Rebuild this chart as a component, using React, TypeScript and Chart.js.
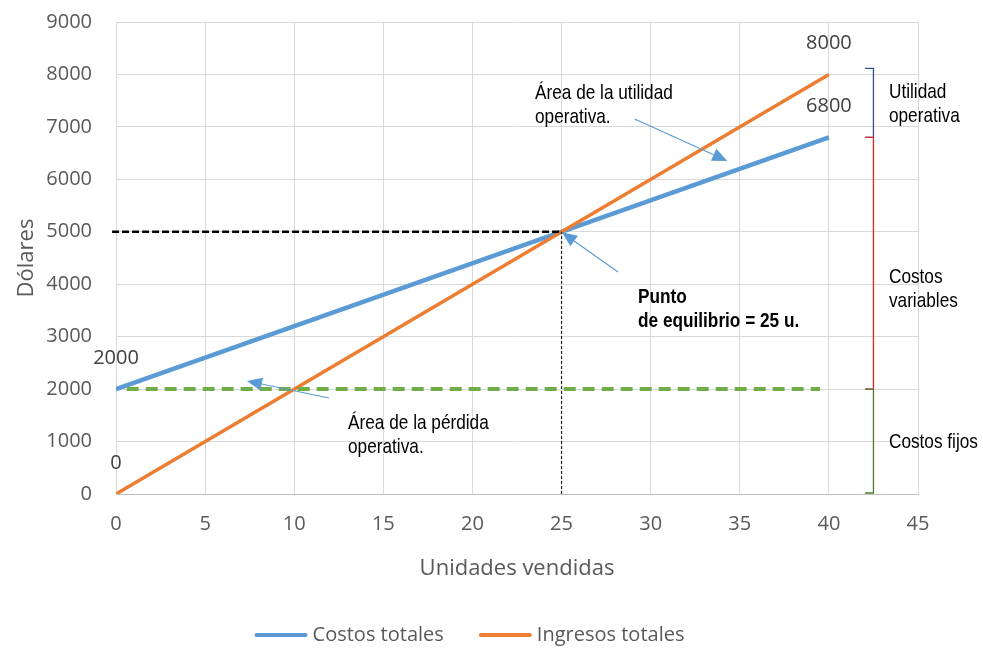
import React, { useEffect, useRef } from "react";
import { Chart, registerables } from "chart.js";

Chart.register(...registerables);

// Series: units sold vs dollars
const unidades = [0, 40];
const costosTotales = [2000, 6800];
const ingresosTotales = [0, 8000];

// Fixed-cost reference line
const costosFijosX = [0.6, 39.5];
const costosFijosY = [2000, 2000];

// Break-even point and its guide lines
const equilibrioUnidades = 25;
const equilibrioDolares = 5000;
const guiaHorizontalX = [-0.22, equilibrioUnidades];

// Axis ranges
const ejeX = { min: 0, max: 45, paso: 5 };
const ejeY = { min: 0, max: 9000, paso: 1000 };

// Legend entries, in display order
const leyenda = ["Costos totales", "Ingresos totales"];

// Annotation arrows (data units): from -> to
const flechas = [
  { desde: [29.1, 7150], hasta: [34.3, 6350] },
  { desde: [11.95, 1830], hasta: [7.35, 2155] },
  { desde: [28.17, 4233], hasta: [25.02, 4990] },
];

// Annotation notes (data units, first baseline)
const notas = [
  { x: 23.51, y: 7532, lineas: ["Área de la utilidad", "operativa."], negrita: false },
  { x: 13.02, y: 1240, lineas: ["Área de la pérdida", "operativa."], negrita: false },
  { x: 29.29, y: 3642, lineas: ["Punto", "de equilibrio = 25 u."], negrita: true },
  { x: 43.37, y: 7552, lineas: ["Utilidad", "operativa"], negrita: false },
  { x: 43.37, y: 4024, lineas: ["Costos", "variables"], negrita: false },
  { x: 43.37, y: 877, lineas: ["Costos fijos"], negrita: false },
];

// Right-hand braces (data units)
const llaves = [
  { x: 42.5, desde: 8000, hasta: 6800, color: "#2F528F", extraArriba: 6 },
  { x: 42.5, desde: 6800, hasta: 2000, color: "#E3262B", extraArriba: 0 },
  { x: 42.5, desde: 2000, hasta: 0, color: "#4F7A34", extraArriba: 0 },
];

const AZUL = "#5B9BD5";
const NARANJA = "#ED7D31";
const VERDE = "#70AD47";
const GRIS_TEXTO = "#595959";

function toXY(xs: number[], ys: number[]) {
  return xs.map((x, i) => ({ x, y: ys[i] }));
}

function textoEstrecho(
  ctx: CanvasRenderingContext2D,
  texto: string,
  x: number,
  y: number,
  negrita: boolean
) {
  ctx.save();
  ctx.translate(x, y);
  ctx.scale(0.82, 1);
  ctx.font = `${negrita ? "bold " : ""}21px "Liberation Sans", Arial, sans-serif`;
  ctx.fillStyle = "#000000";
  ctx.textAlign = "left";
  ctx.textBaseline = "alphabetic";
  ctx.fillText(texto, 0, 0);
  ctx.restore();
}

const anotaciones = {
  id: "anotaciones",
  afterDatasetsDraw(chart: any) {
    const { ctx, scales } = chart;
    const sx = scales.x;
    const sy = scales.y;

    // value labels above line endpoints
    ctx.save();
    ctx.font = '20px "Open Sans", sans-serif';
    ctx.fillStyle = "#404040";
    ctx.textAlign = "center";
    ctx.textBaseline = "middle";
    chart.data.datasets.forEach((ds: any) => {
      if (!ds.etiquetas) return;
      ds.data.forEach((p: any) => {
        ctx.fillText(String(p.y), sx.getPixelForValue(p.x), sy.getPixelForValue(p.y) - 31);
      });
    });
    ctx.restore();

    // arrows
    ctx.save();
    ctx.strokeStyle = AZUL;
    ctx.fillStyle = AZUL;
    ctx.lineWidth = 1.2;
    flechas.forEach((f) => {
      const x1 = sx.getPixelForValue(f.desde[0]);
      const y1 = sy.getPixelForValue(f.desde[1]);
      const x2 = sx.getPixelForValue(f.hasta[0]);
      const y2 = sy.getPixelForValue(f.hasta[1]);
      const ang = Math.atan2(y2 - y1, x2 - x1);
      const largo = 15;
      const medio = 6.5;
      const bx = x2 - largo * Math.cos(ang);
      const by = y2 - largo * Math.sin(ang);
      ctx.beginPath();
      ctx.moveTo(x1, y1);
      ctx.lineTo(bx, by);
      ctx.stroke();
      ctx.beginPath();
      ctx.moveTo(x2, y2);
      ctx.lineTo(bx + medio * Math.sin(ang), by - medio * Math.cos(ang));
      ctx.lineTo(bx - medio * Math.sin(ang), by + medio * Math.cos(ang));
      ctx.closePath();
      ctx.fill();
    });
    ctx.restore();

    // braces on the right
    ctx.save();
    ctx.lineWidth = 1.3;
    llaves.forEach((l) => {
      const x = sx.getPixelForValue(l.x);
      const yTop = sy.getPixelForValue(l.desde) - l.extraArriba;
      const yBot = Math.min(sy.getPixelForValue(l.hasta), sy.bottom - 1);
      ctx.strokeStyle = l.color;
      ctx.beginPath();
      ctx.moveTo(x - 8.5, yTop);
      ctx.lineTo(x, yTop);
      ctx.lineTo(x, yBot);
      ctx.lineTo(x - 8.5, yBot);
      ctx.stroke();
    });
    ctx.restore();

    // notes
    notas.forEach((n) => {
      const x = sx.getPixelForValue(n.x);
      const y = sy.getPixelForValue(n.y);
      n.lineas.forEach((t, i) => textoEstrecho(ctx, t, x, y + i * 24.5, n.negrita));
    });
  },
  afterDraw(chart: any) {
    // legend
    const { ctx } = chart;
    const items = leyenda
      .map((nombre) => chart.data.datasets.find((d: any) => d.label === nombre))
      .filter(Boolean);
    ctx.save();
    ctx.font = '20px "Open Sans", sans-serif';
    const muestra = 53;
    const hueco = 5;
    const separacion = 35;
    const anchos = items.map((d: any) => ctx.measureText(d.label).width);
    const total =
      anchos.reduce((a: number, w: number) => a + muestra + hueco + w, 0) +
      separacion * (items.length - 1);
    let x = 469.5 - total / 2;
    const y = 635;
    items.forEach((d: any, i: number) => {
      ctx.strokeStyle = d.borderColor;
      ctx.lineWidth = 4;
      ctx.lineCap = "round";
      ctx.beginPath();
      ctx.moveTo(x + 2, y);
      ctx.lineTo(x + muestra - 2, y);
      ctx.stroke();
      ctx.fillStyle = GRIS_TEXTO;
      ctx.textAlign = "left";
      ctx.textBaseline = "middle";
      ctx.fillText(d.label, x + muestra + hueco, y);
      x += muestra + hueco + anchos[i] + separacion;
    });
    ctx.restore();
  },
};

export default function App() {
  const ref = useRef<HTMLCanvasElement | null>(null);

  useEffect(() => {
    if (!ref.current) return;
    Chart.defaults.font.family = '"Open Sans", sans-serif';
    const chart = new Chart(ref.current, {
      type: "scatter",
      data: {
        datasets: [
          {
            label: "Guía equilibrio horizontal",
            data: toXY(guiaHorizontalX, [equilibrioDolares, equilibrioDolares]),
            showLine: true,
            borderColor: "#000000",
            borderWidth: 2.5,
            borderDash: [7, 3],
            pointRadius: 0,
            clip: false,
            order: 0,
          } as any,
          {
            label: "Guía equilibrio vertical",
            data: toXY([equilibrioUnidades, equilibrioUnidades], [0, equilibrioDolares]),
            showLine: true,
            borderColor: "#262626",
            borderWidth: 1.2,
            borderDash: [3, 2],
            pointRadius: 0,
            order: 0,
          } as any,
          {
            label: "Costos fijos",
            data: toXY(costosFijosX, costosFijosY),
            showLine: true,
            borderColor: VERDE,
            borderWidth: 4,
            borderDash: [12, 7],
            pointRadius: 0,
            order: 1,
          } as any,
          {
            label: "Ingresos totales",
            data: toXY(unidades, ingresosTotales),
            showLine: true,
            borderColor: NARANJA,
            backgroundColor: NARANJA,
            borderWidth: 3.5,
            pointRadius: 0,
            etiquetas: true,
            order: 2,
          } as any,
          {
            label: "Costos totales",
            data: toXY(unidades, costosTotales),
            showLine: true,
            borderColor: AZUL,
            backgroundColor: AZUL,
            borderWidth: 4.5,
            pointRadius: 0,
            etiquetas: true,
            order: 3,
          } as any,
        ],
      },
      options: {
        animation: false,
        responsive: false,
        devicePixelRatio: 1,
        layout: { padding: { left: 0, right: 65, top: 22, bottom: 54 } },
        plugins: {
          legend: { display: false },
          tooltip: { enabled: false },
        },
        scales: {
          x: {
            type: "linear",
            min: ejeX.min,
            max: ejeX.max,
            ticks: {
              stepSize: ejeX.paso,
              color: GRIS_TEXTO,
              font: { size: 20 },
              padding: 18,
              callback: (v: any) => String(v),
            },
            grid: { color: "#D9D9D9", lineWidth: 1, drawTicks: false },
            border: { color: "#BFBFBF", width: 1 },
            title: {
              display: true,
              text: "Unidades vendidas",
              color: GRIS_TEXTO,
              font: { size: 22 },
              padding: { top: 0, bottom: 12 },
            },
            afterFit: (s: any) => {
              s.height = 100;
              s.paddingLeft = 0;
              s.paddingRight = 0;
            },
          },
          y: {
            type: "linear",
            min: ejeY.min,
            max: ejeY.max,
            ticks: {
              stepSize: ejeY.paso,
              color: GRIS_TEXTO,
              font: { size: 20 },
              padding: 24,
              callback: (v: any) => String(v),
            },
            grid: { color: "#D9D9D9", lineWidth: 1, drawTicks: false },
            border: { color: "#D9D9D9", width: 1 },
            title: {
              display: true,
              text: "Dólares",
              color: GRIS_TEXTO,
              font: { size: 22 },
              padding: { top: 14, bottom: 0 },
            },
            afterFit: (s: any) => {
              s.width = 116;
              s.paddingTop = 0;
              s.paddingBottom = 0;
            },
          },
        },
      },
      plugins: [anotaciones],
    });
    return () => chart.destroy();
  }, []);

  return (
    <div style={{ position: "absolute", left: 0, top: 0, width: 983, height: 648, background: "#ffffff" }}>
      <canvas ref={ref} width={983} height={648} />
    </div>
  );
}
